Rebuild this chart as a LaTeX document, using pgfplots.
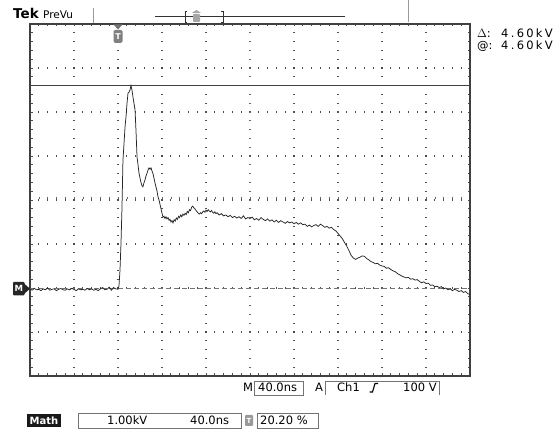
\documentclass[border=0pt]{standalone}
\usepackage{pgfplots}
\pgfplotsset{compat=1.18}
\usepackage{fontspec}
\setmainfont{DejaVu Sans}
\newfontfamily\widefont[LetterSpace=20]{DejaVu Sans}
\begin{document}
\begin{tikzpicture}
\path[use as bounding box, fill=white] (0pt,0pt) rectangle (560pt,430pt);
\begin{scope}[x=1pt,y=1pt]
% graticule: dotted division lines, 5 dots per division
\foreach \i in {1,...,9} {
  \foreach \k in {1,...,39} {
    \fill[black!70] ({30+44*\i-0.55},{54+8.8*\k-0.55}) rectangle +(1.1,1.1);
  }
}
\foreach \j in {1,...,7} {
  \foreach \k in {1,...,49} {
    \fill[black!70] ({30+8.8*\k-0.55},{54+44*\j-0.55}) rectangle +(1.1,1.1);
  }
}
% frame ticks every 1/5 division
\foreach \k in {1,...,49} {
  \draw[black!70, line width=0.7pt] ({30+8.8*\k},406) -- ({30+8.8*\k},403.5);
  \draw[black!70, line width=0.7pt] ({30+8.8*\k},54) -- ({30+8.8*\k},56.5);
}
\foreach \k in {1,...,39} {
  \draw[black!70, line width=0.7pt] (30,{54+8.8*\k}) -- (32.5,{54+8.8*\k});
  \draw[black!70, line width=0.7pt] (470,{54+8.8*\k}) -- (467.5,{54+8.8*\k});
}
% centre crosshair ticks
\foreach \k in {1,...,49} {
  \draw[black!60, line width=0.6pt] ({30+8.8*\k},230.8) -- ({30+8.8*\k},233.2);
}
\foreach \k in {1,...,39} {
  \draw[black!60, line width=0.6pt] (248.8,{54+8.8*\k}) -- (251.2,{54+8.8*\k});
}
\end{scope}
\begin{axis}[
  at={(30pt,54pt)}, anchor=south west,
  scale only axis, width=440pt, height=352pt,
  xmin=0, xmax=400, ymin=-2, ymax=6,
  xtick=\empty, ytick=\empty,
  axis line style={black!75, line width=1.3pt},
]
% ground reference
\addplot[black!55, line width=0.8pt, dash pattern=on 4.5pt off 3.5pt] coordinates {(0,0) (400,0)};
% cursor
\addplot[black!75, line width=0.8pt] coordinates {(0,4.6) (400,4.6)};
% trace (ns, kV)
\addplot[black!85, line width=0.75pt] coordinates {
(0,-0.02)(2,-0.05)(4,-0.01)(6,-0.04)(8,-0.03)(10,-0.06)(12,-0.02)(14,-0.04)(16,0.00)(18,-0.05)
(20,-0.03)(22,-0.02)(24,-0.06)(26,-0.03)(28,-0.01)(30,-0.04)(32,-0.05)(34,-0.02)(36,-0.04)(38,-0.01)
(40,-0.03)(42,-0.06)(44,-0.02)(46,-0.04)(48,-0.03)(50,-0.05)(52,-0.01)(54,-0.04)(56,-0.02)(58,-0.05)
(60,-0.03)(62,-0.06)(64,-0.02)(66,0.01)(68,-0.04)(70,-0.03)(72,0.02)(74,-0.05)(76,0.01)(78,-0.02)(80,-0.03)
(80.9,0.05)(81.8,0.4)(82.7,1.0)(83.6,1.8)(84.5,2.9)(85.5,3.3)(86.4,3.66)(87.3,3.9)(88.2,4.2)(89.1,4.43)
(90,4.45)(90.9,4.5)(91.8,4.6)(92.7,4.5)(93.6,4.34)(94.5,4.2)(95.5,4.05)(96.4,3.55)(97.3,2.98)(98.2,2.8)
(99.1,2.61)(100,2.5)(100.9,2.4)(101.8,2.32)(102.7,2.30)(103.6,2.39)(104.5,2.45)(105.5,2.55)(106.4,2.61)
(107.3,2.68)(108.2,2.73)(109.1,2.70)(110,2.73)(110.9,2.66)(111.8,2.60)(112.7,2.50)(113.6,2.39)(114.5,2.30)
(115.5,2.20)(116.4,2.07)(117.3,2.0)(118.2,1.90)(119.1,1.80)(120,1.70)(120.9,1.61)(121.8,1.63)(122.7,1.58)
(123.6,1.62)(124.5,1.57)(125.5,1.60)(126.4,1.54)(127.3,1.56)(128.2,1.50)(129.1,1.53)(130,1.48)(131,1.55)
(132,1.52)(133,1.59)(134,1.56)(135,1.63)(136,1.60)(137,1.66)(138,1.62)(139,1.68)(140,1.65)(141,1.70)
(142,1.67)(143,1.74)(144,1.71)(145,1.78)(146,1.76)(147,1.84)(148,1.86)(149,1.82)(150,1.80)(151,1.76)
(152,1.73)(153,1.70)(154,1.68)(155,1.71)(156,1.69)(157,1.73)(158,1.75)(159,1.72)(160,1.77)(161,1.74)
(162,1.78)(163,1.75)(164,1.73)(165,1.76)(166,1.72)(167,1.70)(168,1.73)(169,1.69)(170,1.71)(172,1.66)
(174,1.69)(176,1.64)(178,1.66)(180,1.62)(182,1.65)(184,1.60)(186,1.63)(188,1.59)(190,1.62)(192,1.58)
(194,1.64)(196,1.57)(198,1.60)(200,1.58)(202,1.61)(204,1.55)(206,1.58)(208,1.54)(210,1.60)(212,1.56)
(214,1.53)(216,1.57)(218,1.52)(220,1.55)(222,1.50)(224,1.54)(226,1.49)(228,1.53)(230,1.50)(232,1.47)
(234,1.51)(236,1.48)(238,1.50)(240,1.46)(242,1.49)(244,1.45)(246,1.48)(248,1.44)(250,1.45)(252,1.40)
(254,1.43)(256,1.39)(258,1.42)(260,1.44)(262,1.40)(264,1.45)(266,1.42)(268,1.38)(270,1.40)(272,1.36)
(274,1.38)(276,1.33)(278,1.30)(280,1.24)(282,1.18)(284,1.12)(286,1.03)(288,0.95)(290,0.85)(292,0.74)
(294,0.68)(296,0.65)(298,0.68)(300,0.70)(302,0.73)(304,0.72)(306,0.67)(308,0.64)(310,0.60)(312,0.58)
(314,0.55)(316,0.56)(318,0.52)(320,0.50)(322,0.49)(324,0.45)(326,0.46)(328,0.42)(330,0.39)(332,0.37)
(334,0.33)(336,0.30)(338,0.27)(340,0.25)(342,0.23)(344,0.24)(346,0.20)(348,0.21)(350,0.18)(352,0.19)
(354,0.15)(356,0.12)(358,0.14)(360,0.10)(362,0.11)(364,0.06)(366,0.07)(368,0.03)(370,0.04)(372,0.01)
(374,0.03)(376,-0.02)(378,0.00)(380,-0.04)(382,-0.02)(384,-0.06)(386,-0.03)(388,-0.05)(390,-0.08)
(392,-0.06)(394,-0.10)(396,-0.08)(398,-0.13)(400,-0.15)
};
\end{axis}
\begin{scope}[x=1pt,y=1pt]
% header
\node[anchor=base west, inner sep=0] at (13,411) {\fontsize{13.5}{14}\selectfont\bfseries Tek};
\node[anchor=base west, inner sep=0] at (43,411) {\fontsize{10.5}{12}\selectfont PreVu};
\draw[black!40, line width=0.8pt] (93,407) -- (93,422);
\draw[black!40, line width=0.8pt] (408,408) -- (408,430);
\draw[black!80, line width=0.7pt] (155,414) -- (345,414);
\draw[black!80, line width=0.8pt] (187,408) -- (185,408) -- (185,419) -- (187,419);
\draw[black!80, line width=0.8pt] (221,408) -- (223,408) -- (223,419) -- (221,419);
\fill[black!35, rounded corners=0.8pt] (193,408) rectangle (200,416);
\fill[black!35] (192,417) -- (201,417) -- (196.5,420) -- cycle;
% trigger marker
\fill[black!55] (113.5,405.5) -- (122.5,405.5) -- (118,400.5) -- cycle;
\fill[black!50, rounded corners=1.5pt] (113.5,387) rectangle (122.5,400);
\node[white, inner sep=0] at (118,393.5) {\fontsize{8}{9}\selectfont\bfseries T};
% ground marker
\fill[black!85, rounded corners=1pt] (13,134.5) rectangle (24.5,148);
\fill[black!85] (24,136) -- (24,146.5) -- (30,141.25) -- cycle;
\node[white, inner sep=0] at (18.8,141.25) {\fontsize{8.5}{9}\selectfont\bfseries M};
% right readouts
\node[anchor=base west, inner sep=0] at (477,392) {\fontsize{11.5}{12}\selectfont $\Delta$:};
\node[anchor=base west, inner sep=0] at (477,380) {\fontsize{11.5}{12}\selectfont @:};
\node[anchor=base west, inner sep=0] at (501,392) {\fontsize{11.5}{12}\selectfont\widefont 4.60kV};
\node[anchor=base west, inner sep=0] at (501,380) {\fontsize{11.5}{12}\selectfont\widefont 4.60kV};
% bottom status row
\draw[black!55, line width=0.6pt] (254,35) rectangle (303,49);
\draw[black!55, line width=0.6pt] (325,35) -- (325,49) -- (439,49) -- (439,35);
\node[anchor=base west, inner sep=0] at (243,38) {\fontsize{11.5}{12}\selectfont M};
\node[anchor=base west, inner sep=0] at (258,38) {\fontsize{11.5}{12}\selectfont 40.0ns};
\node[anchor=base west, inner sep=0] at (315,38) {\fontsize{11.5}{12}\selectfont A};
\node[anchor=base west, inner sep=0] at (337,38) {\fontsize{11.5}{12}\selectfont Ch1};
\draw[black, line width=1.1pt] (369.5,38) -- (372.5,38) -- (375,46.5) -- (378,46.5);
\node[anchor=base west, inner sep=0] at (403,38) {\fontsize{11.5}{12}\selectfont 100 V};
% math row
\fill[black!90] (27,3) rectangle (61,16);
\node[white, inner sep=0] at (44,9.5) {\fontsize{10}{11}\selectfont\bfseries Math};
\draw[black!55, line width=0.6pt] (78,2) rectangle (241,17);
\node[anchor=base west, inner sep=0] at (107,5.5) {\fontsize{11.5}{12}\selectfont 1.00kV};
\node[anchor=base west, inner sep=0] at (190,5.5) {\fontsize{11.5}{12}\selectfont 40.0ns};
\fill[black!40, rounded corners=0.8pt] (245,4) rectangle (253,15);
\node[white, inner sep=0] at (249,9.5) {\fontsize{7}{8}\selectfont\bfseries T};
\draw[black!55, line width=0.6pt] (257,2) rectangle (318,17);
\node[anchor=base west, inner sep=0] at (260,5.5) {\fontsize{11.5}{12}\selectfont 20.20 \%};
\end{scope}
\end{tikzpicture}
\end{document}
